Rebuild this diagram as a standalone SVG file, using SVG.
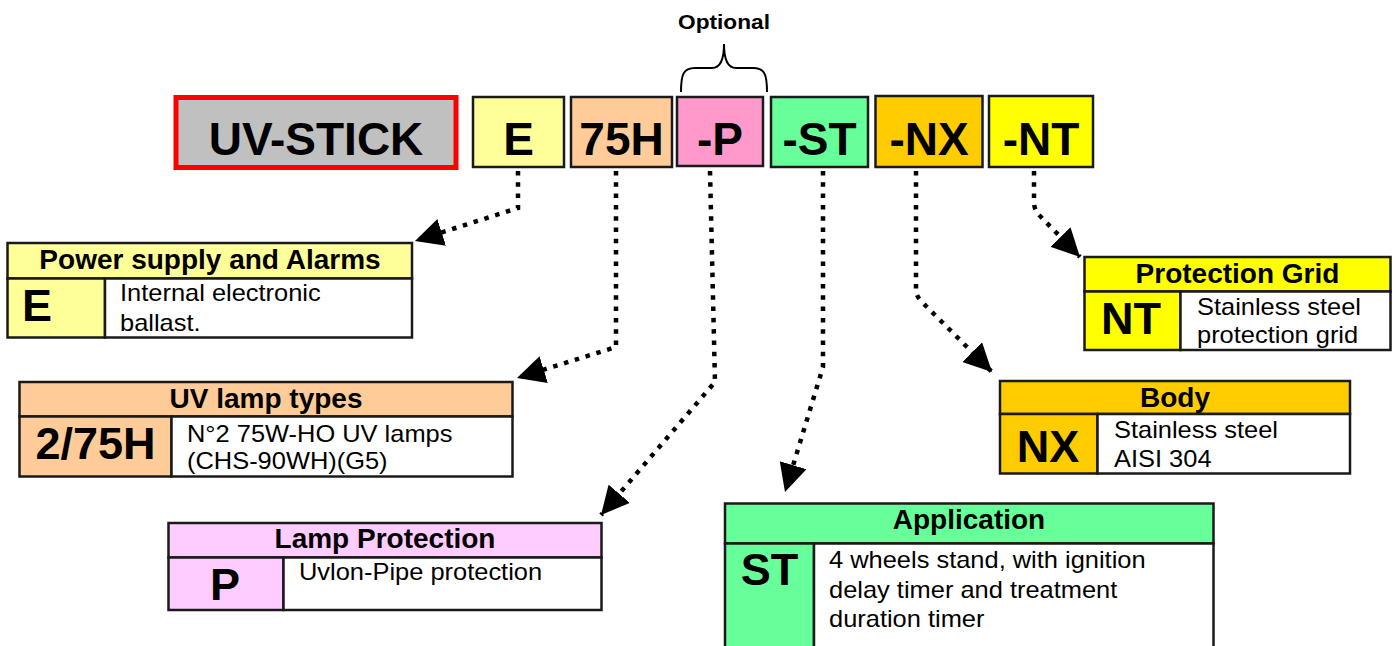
<svg xmlns="http://www.w3.org/2000/svg" width="1396" height="646" viewBox="0 0 1396 646">
<style>
.box{stroke:#1a1a1a;stroke-width:2.5}
.code{font-family:"Liberation Sans",Arial,sans-serif;font-weight:bold;font-size:46px;text-anchor:middle;fill:#000}
.title{font-family:"Liberation Sans",Arial,sans-serif;font-weight:bold;font-size:28px;text-anchor:middle;fill:#000}
.cell{font-family:"Liberation Sans",Arial,sans-serif;font-weight:bold;font-size:45px;text-anchor:middle;fill:#000}
.desc{font-family:"Liberation Sans",Arial,sans-serif;font-size:24px;fill:#000}
.conn{fill:none;stroke:#000;stroke-width:4.5;stroke-dasharray:4.5 6.8;stroke-linecap:butt}
</style>
<defs>
<marker id="ah" markerUnits="userSpaceOnUse" markerWidth="28" markerHeight="28" viewBox="0 0 26 26" refX="26" refY="13" orient="auto">
<path d="M0,0 L26,13 L0,26 z" fill="#000"/>
</marker>
</defs>
<rect width="1396" height="646" fill="#fff"/>

<g id="optional">
<text transform="translate(724,29) scale(1.08,1)" font-family="'Liberation Sans',Arial,sans-serif" font-weight="bold" font-size="21" text-anchor="middle">Optional</text>
<path d="M681,92 C681,75 683,68 695,68 L712,68 C720,68 724,60 724,44 C724,60 728,68 736,68 L753,68 C765,68 767,75 767,92" fill="none" stroke="#000" stroke-width="2"/>
</g>

<g id="code-uvstick">
<rect x="176" y="97.5" width="280" height="70" fill="#c0c0c0" stroke="#ff0000" stroke-width="5"/>
<text class="code" x="316" y="155">UV-STICK</text>
</g>
<g id="code-e">
<rect class="box" x="473" y="97" width="91" height="70" fill="#ffff99"/>
<text class="code" x="518.5" y="155">E</text>
</g>
<g id="code-75h">
<rect class="box" x="571" y="97" width="101" height="70" fill="#ffcc99"/>
<text class="code" x="621.5" y="155">75H</text>
</g>
<g id="code-p">
<rect class="box" x="677" y="97" width="86" height="69" fill="#ff99cc"/>
<text class="code" x="720" y="155">-P</text>
</g>
<g id="code-st">
<rect class="box" x="771" y="97" width="97" height="70" fill="#66ff99"/>
<text class="code" x="819.5" y="155">-ST</text>
</g>
<g id="code-nx">
<rect class="box" x="875.5" y="96" width="107" height="71" fill="#ffcc00"/>
<text class="code" x="929" y="155">-NX</text>
</g>
<g id="code-nt">
<rect class="box" x="989" y="96" width="104" height="71" fill="#ffff00"/>
<text class="code" x="1041" y="155">-NT</text>
</g>

<g id="connectors">
<path class="conn" d="M518,171 L518,208 L415,241" marker-end="url(#ah)"/>
<path class="conn" d="M616,171 L616,347 L517,378" marker-end="url(#ah)"/>
<path class="conn" d="M710,171 L715,382 L601,515" marker-end="url(#ah)"/>
<path class="conn" d="M823,171 L823,367 L785,492" marker-end="url(#ah)"/>
<path class="conn" d="M916,171 L916,290 Q916,296 922,302 L992,372" marker-end="url(#ah)"/>
<path class="conn" d="M1034,171 L1034,202 Q1034,210 1040,216 L1080,257" marker-end="url(#ah)"/>
</g>

<g id="legend-power">
<rect class="box" x="7.5" y="243" width="404.5" height="35.5" fill="#ffff99"/>
<rect class="box" x="7.5" y="278.5" width="97.5" height="59" fill="#ffff99"/>
<rect class="box" x="105" y="278.5" width="307" height="59" fill="#fff"/>
<text class="title" x="210" y="269">Power supply and Alarms</text>
<text class="cell" x="22" y="321" style="text-anchor:start">E</text>
<text class="desc" transform="translate(120,301) scale(1.06,1)">Internal electronic</text>
<text class="desc" transform="translate(120,331) scale(1.06,1)">ballast.</text>
</g>

<g id="legend-lamp">
<rect class="box" x="19.5" y="382" width="493" height="34.5" fill="#ffcc99"/>
<rect class="box" x="19.5" y="416.5" width="152" height="60" fill="#ffcc99"/>
<rect class="box" x="171.5" y="416.5" width="341" height="60" fill="#fff"/>
<text class="title" x="266" y="408">UV lamp types</text>
<text class="cell" x="95.5" y="459">2/75H</text>
<text class="desc" transform="translate(187,442) scale(1.06,1)">N°2 75W-HO UV lamps</text>
<text class="desc" transform="translate(187,469) scale(1.06,1)">(CHS-90WH)(G5)</text>
</g>

<g id="legend-protection">
<rect class="box" x="168.5" y="523" width="433" height="34.5" fill="#ffccff"/>
<rect class="box" x="168.5" y="557.5" width="115" height="52.5" fill="#ffccff"/>
<rect class="box" x="283.5" y="557.5" width="318" height="52.5" fill="#fff"/>
<text class="title" x="385" y="548">Lamp Protection</text>
<text class="cell" x="225" y="600">P</text>
<text class="desc" transform="translate(299,580) scale(1.06,1)">Uvlon-Pipe protection</text>
</g>

<g id="legend-application">
<rect class="box" x="725" y="503.5" width="488.5" height="40" fill="#66ff99"/>
<rect class="box" x="725" y="543.5" width="89" height="110" fill="#66ff99"/>
<rect class="box" x="814" y="543.5" width="399.5" height="110" fill="#fff"/>
<text class="title" x="969" y="529">Application</text>
<text class="cell" x="769.5" y="585">ST</text>
<text class="desc" transform="translate(829,568) scale(1.06,1)">4 wheels stand, with ignition</text>
<text class="desc" transform="translate(829,598) scale(1.06,1)">delay timer and treatment</text>
<text class="desc" transform="translate(829,627) scale(1.06,1)">duration timer</text>
</g>

<g id="legend-grid">
<rect class="box" x="1084.5" y="257" width="306" height="34.5" fill="#ffff00"/>
<rect class="box" x="1084.5" y="291.5" width="96" height="58.5" fill="#ffff00"/>
<rect class="box" x="1180.5" y="291.5" width="210" height="58.5" fill="#fff"/>
<text class="title" x="1237.5" y="283">Protection Grid</text>
<text class="cell" x="1131" y="334">NT</text>
<text class="desc" transform="translate(1197,315) scale(1.06,1)">Stainless steel</text>
<text class="desc" transform="translate(1197,343) scale(1.06,1)">protection grid</text>
</g>

<g id="legend-body">
<rect class="box" x="1000" y="381" width="350" height="33" fill="#ffcc00"/>
<rect class="box" x="1000" y="414" width="97.5" height="59.5" fill="#ffcc00"/>
<rect class="box" x="1097.5" y="414" width="252.5" height="59.5" fill="#fff"/>
<text class="title" x="1175" y="407">Body</text>
<text class="cell" x="1048" y="462">NX</text>
<text class="desc" transform="translate(1114,438) scale(1.06,1)">Stainless steel</text>
<text class="desc" transform="translate(1114,467) scale(1.06,1)">AISI 304</text>
</g>
</svg>
